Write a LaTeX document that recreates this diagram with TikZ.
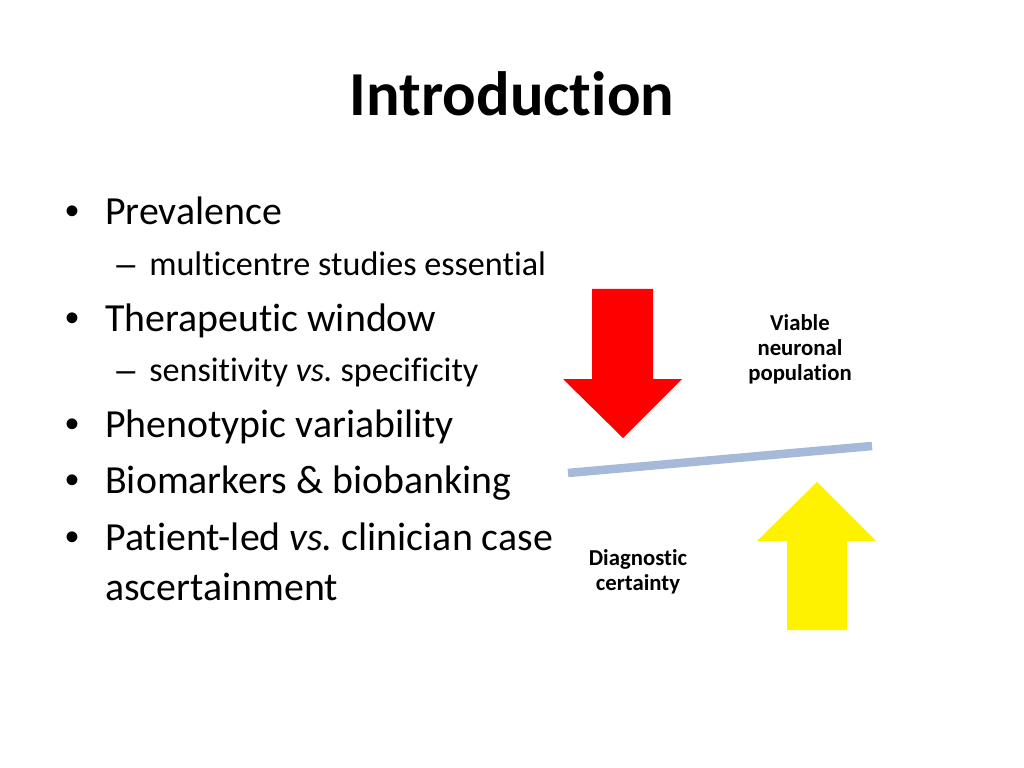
\documentclass[tikz,border=0pt]{standalone}
\usepackage{fontspec}
\setmainfont[Ligatures=NoCommon]{Carlito}
\newfontfamily\bulletfont{Liberation Sans}
\frenchspacing
\begin{document}
\begin{tikzpicture}[x=0.703125pt,y=-0.703125pt,
  title/.style={anchor=base,font=\fontsize{44}{53}\selectfont\bfseries,inner sep=0},
  lvl1/.style={anchor=base west,font=\fontsize{28}{34}\selectfont,inner sep=0},
  bulletdot/.style={anchor=base west,font=\bulletfont\fontsize{28}{34}\selectfont,inner sep=0},
  subdash/.style={anchor=base west,font=\bulletfont\fontsize{24}{29}\selectfont,inner sep=0},
  lvl2/.style={anchor=base west,font=\fontsize{24}{29}\selectfont,inner sep=0},
  lbl/.style={align=center,font=\fontsize{16}{17.6}\selectfont\bfseries,inner sep=0},
  bar/.style={line width=6pt,draw={rgb,255:red,166;green,185;blue,216}}]
\useasboundingbox[fill=white] (0,0) rectangle (1024,768);
\node[title] (t) at (512,116) {Introduction};
% bullets
\node[bulletdot] (b1d) at (65,225) {•};
\node[lvl1] (b1) at (105,225) {Prevalence};
\node[subdash] (s1d) at (116,276) {–};
\node[lvl2] (s1) at (149,276) {multicentre studies essential};
\node[bulletdot] (b2d) at (65,331) {•};
\node[lvl1] (b2) at (105,331) {Therapeutic window};
\node[subdash] (s2d) at (116,381) {–};
\node[lvl2] (s2) at (149,381) {sensitivity \textit{vs.} specificity};
\node[bulletdot] (b3d) at (65,437) {•};
\node[lvl1] (b3) at (105,437) {Phenotypic variability};
\node[bulletdot] (b4d) at (65,493) {•};
\node[lvl1] (b4) at (105,493) {Biomarkers \& biobanking};
\node[bulletdot] (b5d) at (65,550) {•};
\node[lvl1] (b5) at (105,550) {Patient-led \textit{vs.} clinician case};
\node[lvl1] (b6) at (105,600) {ascertainment};
% arrows
\fill[red] (592,289) -- (653,289) -- (653,379) -- (682,379) -- (623,438) -- (563,379) -- (592,379) -- cycle;
\fill[yellow] (787,630) -- (847,630) -- (847,541) -- (876,541) -- (817,482) -- (757,541) -- (787,541) -- cycle;
\coordinate (l1) at (568,473);
\coordinate (l2) at (872,446);
\draw[bar] (l1) -- (l2);
\node[lbl] (v) at (800,349) {Viable\\neuronal\\population};
\node[lbl] (d) at (638,572) {Diagnostic\\certainty};
\end{tikzpicture}
\end{document}
